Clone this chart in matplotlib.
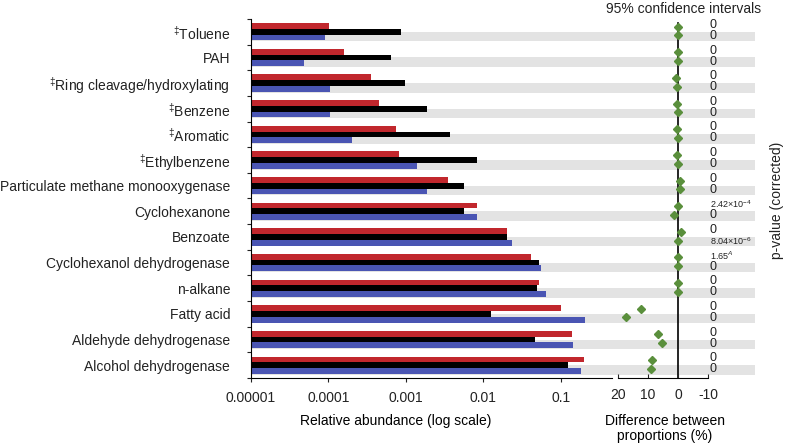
import numpy as np
import matplotlib
matplotlib.use("Agg")
import matplotlib.pyplot as plt
import matplotlib.ticker as mticker

plt.rcParams['font.family'] = ['Liberation Sans', 'DejaVu Sans']
plt.rcParams['mathtext.fontset'] = 'custom'
plt.rcParams['mathtext.rm'] = 'Liberation Sans'
plt.rcParams['mathtext.it'] = 'Liberation Sans:italic'
plt.rcParams['font.size'] = 10
plt.rcParams['text.color'] = '#222222'
plt.rcParams['xtick.color'] = '#222222'
plt.rcParams['ytick.color'] = '#222222'
##############################################################################
categories = ["$^{‡}$Toluene", "PAH", "$^{‡}$Ring cleavage/hydroxylating",
              "$^{‡}$Benzene", "$^{‡}$Aromatic", "$^{‡}$Ethylbenzene",
              "Particulate methane monooxygenase", "Cyclohexanone", "Benzoate",
              "Cyclohexanol dehydrogenase", "n-alkane", "Fatty acid",
              "Aldehyde dehydrogenase", "Alcohol dehydrogenase"]
red_vals = [1.0e-4, 1.6e-4, 3.5e-4, 4.5e-4, 7.4e-4, 8.1e-4, 3.5e-3,
            8.2e-3, 0.020, 0.041, 0.052, 0.102, 0.14, 0.198]
black_vals = [8.7e-4, 6.4e-4, 9.7e-4, 1.9e-3, 3.7e-3, 8.2e-3, 5.6e-3,
              5.6e-3, 0.0205, 0.052, 0.0496, 0.0127, 0.047, 0.124]
blue_vals = [9.0e-5, 4.7e-5, 1.05e-4, 1.05e-4, 2.0e-4, 1.4e-3, 1.9e-3,
             8.3e-3, 0.0238, 0.055, 0.064, 0.208, 0.145, 0.185]
diff_upper = [0, 0, 0.8, 0.2, 0.4, 0.3, -0.6, 0, -0.9, 0, 0, 12.2, 6.7, 8.7]
diff_lower = [0, 0, 0.3, 0, 0, 0, -0.7, 1.3, 0, 0, 0, 17.3, 5.4, 8.9]
p_upper = ["0", "0", "0", "0", "0", "0", "0", r"2.42$\times$10$^{-4}$", "0",
           "1.65$^{A}$", "0", "0", "0", "0"]
p_lower = ["0", "0", "0", "0", "0", "0", "0", "0", r"8.04$\times$10$^{-6}$",
           "0", "0", "0", "0", "0"]
abund_ticks = [1e-5, 1e-4, 1e-3, 1e-2, 1e-1]
abund_labels = ["0.00001", "0.0001", "0.001", "0.01", "0.1"]
diff_ticks = [20, 10, 0, -10]
##############################################################################
W, H = 785, 444
fig = plt.figure(figsize=(W / 100, H / 100), dpi=100)

def box(x0, x1, y0=19, y1=378):
    return [x0 / W, 1 - y1 / H, (x1 - x0) / W, (y1 - y0) / H]

n = len(categories)
pos = np.arange(n)
ylim = (n - 0.5, -0.5)

# background stripes across all panels
bg = fig.add_axes(box(251, 755))
bg.set_ylim(ylim)
bg.set_xlim(0, 1)
for i in pos:
    bg.axhspan(i + 0.0, i + 0.37, color="#e3e3e3", lw=0)
bg.axis("off")

# relative abundance bars
ax = fig.add_axes(box(251, 612))
ax.set_facecolor("none")
h = 0.225
ax.barh(pos - h, red_vals, height=h, color="#c1272d", left=1e-6)
ax.barh(pos, black_vals, height=h, color="black", left=1e-6)
ax.barh(pos + h, blue_vals, height=h, color="#4a55b3", left=1e-6)
ax.set_xscale("log")
ax.set_xlim(1e-5, 0.46)
ax.set_ylim(ylim)
ax.xaxis.set_major_locator(mticker.FixedLocator(abund_ticks))
ax.xaxis.set_major_formatter(mticker.FixedFormatter(abund_labels))
ax.xaxis.set_minor_locator(mticker.NullLocator())
ax.tick_params(axis="x", direction="out", length=3, pad=6, labelsize=10)
ax.set_yticks(np.arange(-0.5, n, 1.0))
ax.set_yticklabels([])
ax.set_yticks(pos, minor=True)
ax.set_yticklabels(categories, minor=True)
ax.tick_params(axis="y", which="major", direction="out", length=3)
ax.tick_params(axis="y", which="minor", length=0, pad=15, labelsize=10)
for s in ["top", "right"]:
    ax.spines[s].set_visible(False)
ax.spines["left"].set_linewidth(0.8)
ax.spines["bottom"].set_linewidth(0.8)
ax.set_xlabel("Relative abundance (log scale)", fontsize=10)
ax.xaxis.set_label_coords(0.4, -0.1)

# difference panel
ax2 = fig.add_axes(box(618, 708))
ax2.set_facecolor("none")
ax2.set_xlim(20, -10)
ax2.set_ylim(ylim)
ax2.axvline(0, ymax=0.99, color="black", lw=1.2, zorder=1)
ax2.plot(diff_upper, pos - 0.2, ls="none", marker="D", ms=4.5,
         color="#5a8f3c", zorder=3)
ax2.plot(diff_lower, pos + 0.14, ls="none", marker="D", ms=4.5,
         color="#5a8f3c", zorder=3)
ax2.set_xticks(diff_ticks)
ax2.set_xticklabels([str(t) for t in diff_ticks])
ax2.tick_params(axis="x", direction="in", length=3, pad=7, labelsize=10)
ax2.set_yticks([])
for s in ["top", "right", "left"]:
    ax2.spines[s].set_visible(False)
ax2.spines["bottom"].set_linewidth(0.8)
ax2.set_xlabel("Difference between\nproportions (%)", fontsize=10,
               linespacing=1.1)
ax2.xaxis.set_label_coords(0.52, -0.1)
ax2.set_title("95% confidence intervals", fontsize=10, x=0.73, pad=4)

# p-values
for i in pos:
    for txt, off in [(p_upper[i], -0.27), (p_lower[i], 0.16)]:
        fs = 9 if txt == "0" else 6.5
        ax2.text(1.0 + 2 / 90, i + off, txt, transform=ax2.get_yaxis_transform(),
                 ha="left", va="center", fontsize=fs, clip_on=False)
fig.text(777 / W, 1 - 200 / H, "p-value (corrected)", rotation=90,
         ha="center", va="center", fontsize=10)

fig.savefig("out.png", dpi=100)
